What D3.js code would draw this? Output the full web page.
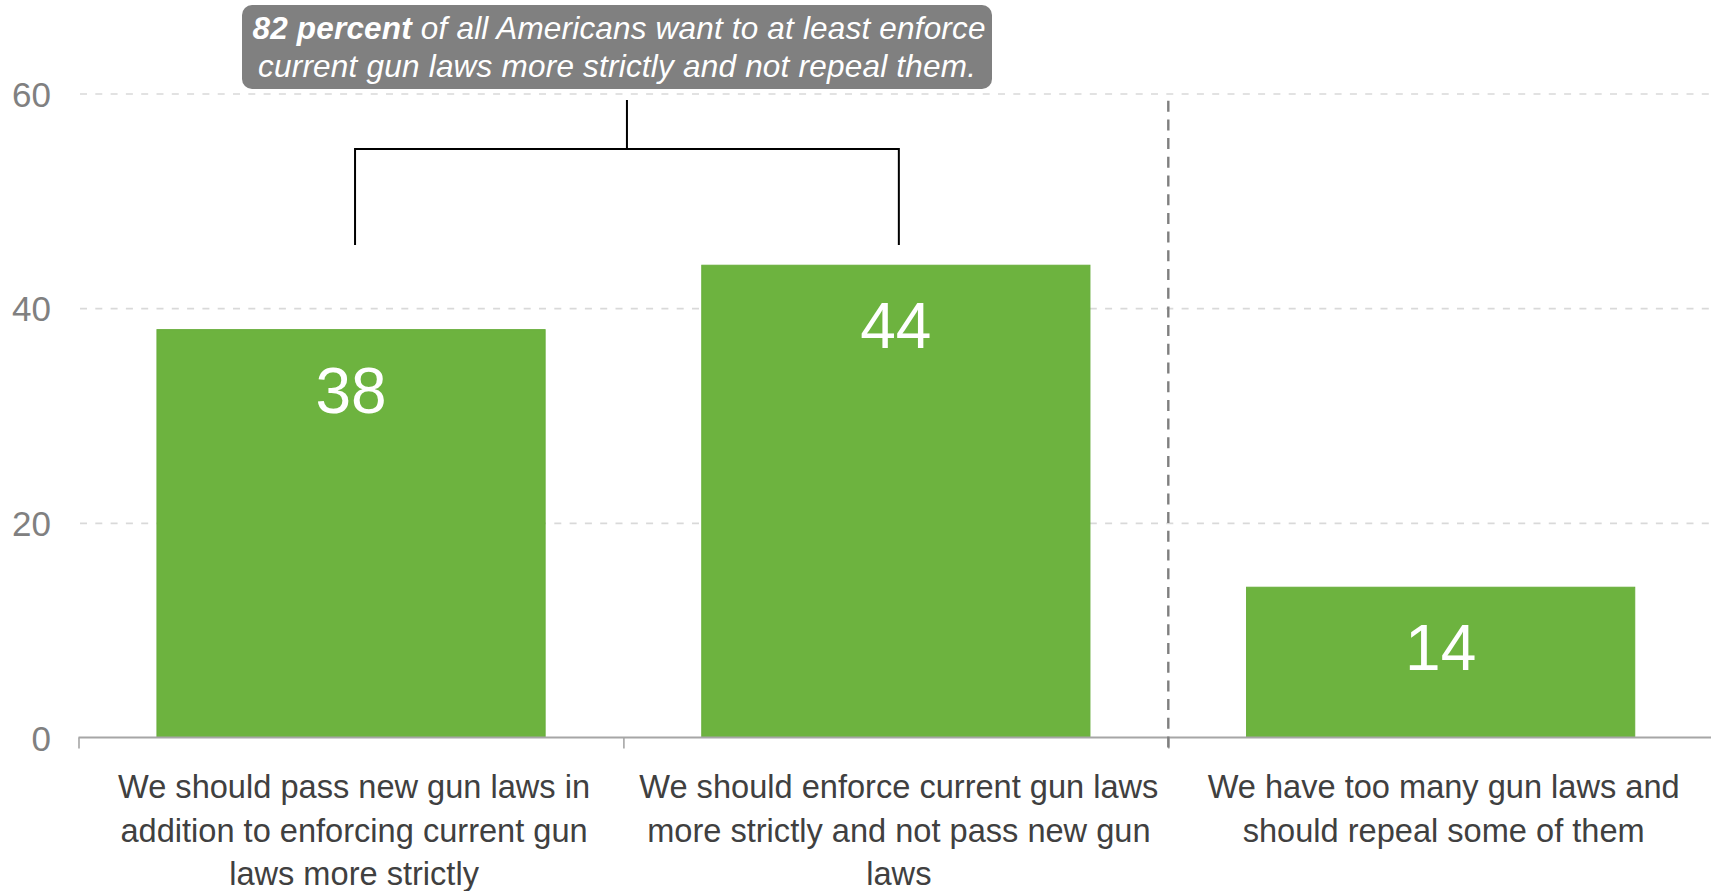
<!DOCTYPE html>
<html>
<head>
<meta charset="utf-8">
<script src="https://cdn.jsdelivr.net/npm/d3@7"></script>
<style>
  html, body { margin: 0; padding: 0; background: #ffffff; }
  svg { display: block; font-family: "Liberation Sans", Arial, Helvetica, sans-serif; }
</style>
</head>
<body>
<svg id="chart" width="1711" height="891"></svg>
<script>
// ---- data ----
const categories = ["pass_new", "enforce_current", "repeal_some"];
const labelLines = [
  ["We should pass new gun laws in", "addition to enforcing current gun", "laws more strictly"],
  ["We should enforce current gun laws", "more strictly and not pass new gun", "laws"],
  ["We have too many gun laws and", "should repeal some of them"]
];
const values = [38, 44, 14];
const yTicks = [0, 20, 40, 60];
const gridTicks = [20, 40, 60];
const annotationBold = "82 percent";
const annotationLine1 = " of all Americans want to at least enforce";
const annotationLine2 = "current gun laws more strictly and not repeal them.";
const bracketGroup = ["pass_new", "enforce_current"];
const dividerAfter = 2; // divider between 2nd and 3rd category

// ---- layout ----
const svg = d3.select("#chart");
const W = 1711, H = 891;
const plotLeft = 78.5;
const step = 544.9;
const plotRight = plotLeft + step * categories.length;
const yBottom = 737.5, yTop = 93.5;

const x = d3.scaleBand().domain(categories).range([plotLeft, plotRight])
  .paddingInner(0.2875).paddingOuter(0.144);
const xEdge = d3.scaleLinear().domain([0, categories.length]).range([plotLeft, plotRight]);
const y = d3.scaleLinear().domain([0, 60]).range([yBottom, yTop]);

// gridlines
const grid = svg.append("g").attr("transform", `translate(${plotLeft + 1.5},0)`)
  .call(d3.axisLeft(y).tickValues(gridTicks).tickSize(-(W - plotLeft)).tickFormat(""));
grid.select(".domain").remove();
grid.selectAll("line").attr("stroke", "#d9d9d9").attr("stroke-width", 1.6)
  .attr("stroke-dasharray", "7,8.3");

// y axis labels
const yAxis = svg.append("g").attr("transform", `translate(${plotLeft},0)`)
  .call(d3.axisLeft(y).tickValues(yTicks).tickSize(0).tickPadding(27.5));
yAxis.select(".domain").remove();
yAxis.selectAll("text").attr("fill", "#808080").attr("font-size", 35)
  .attr("font-family", "'Liberation Sans', Arial, sans-serif").attr("dy", "0.36em");

// bars
svg.append("g").selectAll("rect").data(values).join("rect")
  .attr("x", (d, i) => x(categories[i]))
  .attr("y", d => y(d))
  .attr("width", x.bandwidth())
  .attr("height", d => y(0) - y(d))
  .attr("fill", "#6db33f")
  .attr("stroke", "#68ad3b").attr("stroke-width", 1);

// value labels
svg.append("g").selectAll("text").data(values).join("text")
  .attr("x", (d, i) => x(categories[i]) + x.bandwidth() / 2)
  .attr("y", d => y(d) + 83)
  .attr("text-anchor", "middle")
  .attr("fill", "#ffffff")
  .attr("font-size", 64)
  .text(d => d);

// x axis
const xAxis = svg.append("g").attr("transform", `translate(0,${yBottom})`)
  .call(d3.axisBottom(xEdge).tickValues(d3.range(categories.length + 1)).tickSize(11).tickSizeOuter(0).tickFormat(""));
xAxis.select(".domain").attr("stroke", "#a6a6a6").attr("stroke-width", 2)
  .attr("d", `M${plotLeft},0H${W}`);
xAxis.selectAll(".tick line").attr("stroke", "#a6a6a6").attr("stroke-width", 1.6);

// category labels
const lab = svg.append("g").selectAll("text").data(labelLines).join("text")
  .attr("text-anchor", "middle")
  .attr("fill", "#404040")
  .attr("font-size", 32.6)
  .attr("transform", (d, i) => `translate(${x(categories[i]) + x.bandwidth() / 2 + 3},798)`);
lab.selectAll("tspan").data(d => d).join("tspan")
  .attr("x", 0).attr("y", (d, j) => j * 43.5).text(d => d);

// divider dashed line
svg.append("line")
  .attr("x1", xEdge(dividerAfter)).attr("x2", xEdge(dividerAfter))
  .attr("y1", 100.7).attr("y2", 749)
  .attr("stroke", "#7f7f7f").attr("stroke-width", 2.4)
  .attr("stroke-dasharray", "11,7.7");

// bracket
const bx1 = x(bracketGroup[0]) + x.bandwidth() / 2 + 4;
const bx2 = x(bracketGroup[1]) + x.bandwidth() / 2 + 3;
const bMid = (bx1 + bx2) / 2;
const bTop = 149, bLegBottom = 245, bStemTop = 100;
svg.append("path")
  .attr("d", `M${bx1},${bLegBottom}V${bTop}H${bx2}V${bLegBottom}M${bMid},${bTop}V${bStemTop}`)
  .attr("fill", "none").attr("stroke", "#000").attr("stroke-width", 2);

// annotation box
const boxX1 = 242, boxX2 = 992, boxY1 = 5, boxY2 = 89;
svg.append("rect")
  .attr("x", boxX1).attr("y", boxY1).attr("width", boxX2 - boxX1).attr("height", boxY2 - boxY1)
  .attr("rx", 10).attr("ry", 10).attr("fill", "#808080");
const cx = (boxX1 + boxX2) / 2 + 2;
const t1 = svg.append("text").attr("x", cx).attr("y", 39).attr("text-anchor", "middle")
  .attr("fill", "#fff").attr("font-size", 31.5).attr("font-style", "italic")
  .attr("textLength", 733).attr("lengthAdjust", "spacing");
t1.append("tspan").attr("font-weight", "bold").text(annotationBold);
t1.append("tspan").text(annotationLine1);
svg.append("text").attr("x", cx - 2).attr("y", 77).attr("text-anchor", "middle")
  .attr("fill", "#fff").attr("font-size", 31.5).attr("font-style", "italic")
  .attr("textLength", 718).attr("lengthAdjust", "spacing")
  .text(annotationLine2);
</script>
</body>
</html>
